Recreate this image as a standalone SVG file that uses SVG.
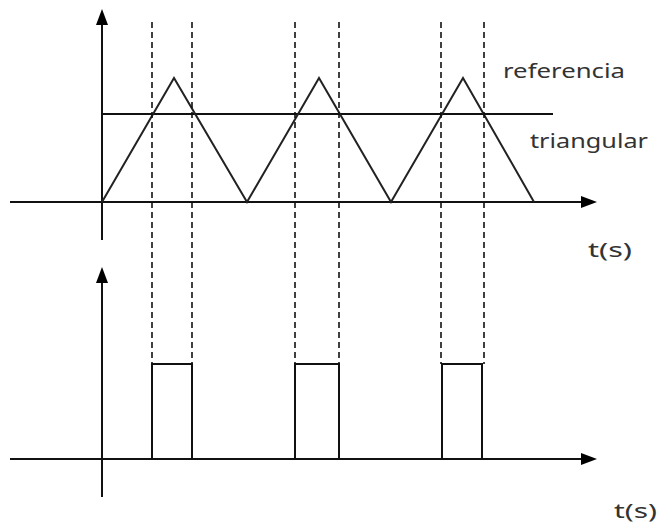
<svg xmlns="http://www.w3.org/2000/svg" width="658" height="526" viewBox="0 0 658 526">
<defs>
<style>
.ax{stroke:#111;stroke-width:2;fill:none}
.wv{stroke:#222;stroke-width:2;fill:none;stroke-linejoin:miter}
.ds{stroke:#111;stroke-width:1.6;stroke-dasharray:6,4;fill:none}
.hd{fill:#000;stroke:none}
.lb{font-family:"Noto Sans","Open Sans","Liberation Sans",sans-serif;font-size:20px;fill:#333}
</style>
</defs>
<rect width="658" height="526" fill="#fff"/>
<g id="top-axes">
<line class="ax" x1="102" y1="22" x2="102" y2="240"/>
<polygon class="hd" points="102,9 96,25 108,25"/>
<line class="ax" x1="10" y1="202" x2="583" y2="202"/>
<polygon class="hd" points="597,202 581,196 581,208"/>
</g>
<g id="reference">
<line class="ax" x1="102" y1="114" x2="553" y2="114" stroke-width="1.6"/>
</g>
<g id="triangular">
<polyline class="wv" points="102,202 174,78 247,202 319,78 391,202 463,78 534,202"/>
</g>
<g id="connectors">
<line class="ds" x1="152" y1="22" x2="152" y2="364"/>
<line class="ds" x1="192" y1="22" x2="192" y2="364"/>
<line class="ds" x1="295" y1="22" x2="295" y2="364"/>
<line class="ds" x1="339" y1="22" x2="339" y2="364"/>
<line class="ds" x1="441" y1="22" x2="441" y2="364"/>
<line class="ds" x1="484" y1="22" x2="484" y2="364"/>
</g>
<g id="bottom-axes">
<line class="ax" x1="102" y1="280" x2="102" y2="497"/>
<polygon class="hd" points="102,267 96,283 108,283"/>
<line class="ax" x1="10" y1="459" x2="583" y2="459"/>
<polygon class="hd" points="597,459 581,453 581,465"/>
</g>
<g id="pulses">
<polyline class="ax" points="152,459 152,364 192,364 192,459"/>
<polyline class="ax" points="295,459 295,364 339,364 339,459"/>
<polyline class="ax" points="442,459 442,364 482,364 482,459"/>
</g>
<g id="labels">
<text class="lb" x="503" y="78" textLength="122" lengthAdjust="spacingAndGlyphs">referencia</text>
<text class="lb" x="530" y="148" textLength="118" lengthAdjust="spacingAndGlyphs">triangular</text>
<text class="lb" x="588" y="257" textLength="44" lengthAdjust="spacingAndGlyphs">t(s)</text>
<text class="lb" x="614" y="518" textLength="43" lengthAdjust="spacingAndGlyphs">t(s)</text>
</g>
</svg>
